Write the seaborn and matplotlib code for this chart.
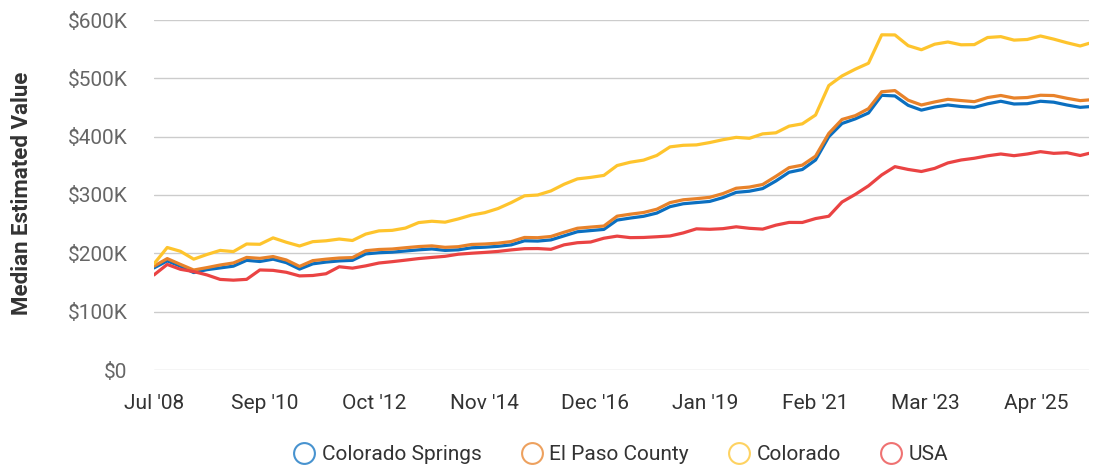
import matplotlib
matplotlib.use("Agg")
import matplotlib.pyplot as plt
from matplotlib.lines import Line2D
import pandas as pd
import seaborn as sns

# ---------------------------------------------------------------------------
# Data (median estimated value, thousands of USD), one point every 3 periods
# ---------------------------------------------------------------------------
X_IDX = list(range(0, 211, 3)) + [212]

TICK_POS = [0, 25, 50, 75, 100, 125, 150, 175, 200]
TICK_LABELS = ["Jul '08", "Sep '10", "Oct '12", "Nov '14", "Dec '16",
               "Jan '19", "Feb '21", "Mar '23", "Apr '25"]

COLORADO_SPRINGS = [
    175, 187, 178, 167, 172, 175, 178, 188, 186, 190, 184, 173,
    182, 185, 187, 188, 199, 201, 202, 204, 206, 207.5, 205, 206,
    209.5, 210.5, 212, 214.5, 221.5, 221, 223, 230, 237, 239, 241, 257,
    260.5, 263.5, 269, 280, 285, 287, 289, 295.5, 304.5, 306.5, 311, 324,
    339, 343.7, 360, 399.9, 422.6, 430.5, 440.6, 470.9, 469.8, 453.7, 445.5, 450.8,
    454.3, 451.7, 450.3, 456.3, 460.7, 456, 456.5, 460.7, 459.1, 454.3, 450.3, 451.4,
]
EL_PASO_COUNTY = [
    178, 191, 181, 171.4, 175.5, 180, 183.5, 193, 191.4, 194.5, 188.6, 177.6,
    187.5, 190, 192, 192.7, 204.5, 206.6, 207.4, 209.6, 211.6, 212.8, 210.3, 211.4,
    215.2, 216, 217.4, 220.2, 227.2, 226.8, 228.9, 236.2, 243, 245, 246.8, 263.7,
    267.1, 270, 275.6, 286.9, 291.8, 293.7, 296, 302.4, 311.6, 313.6, 318, 332,
    346.9, 351.2, 366.6, 405.6, 429.5, 436, 448, 477, 479, 462.5, 454.3, 459.5,
    464, 461.9, 460, 467, 470.6, 466.2, 467.1, 471, 470.5, 465.8, 461.8, 463,
]
COLORADO = [
    182, 210, 203.5, 190, 198, 205, 203, 216, 215.5, 226.5, 219, 212.6,
    220, 221.5, 224.5, 222, 233, 238.5, 239.4, 243.3, 252.7, 255, 253.4, 259,
    265.6, 269.7, 276.8, 287, 298.6, 300, 307, 318.5, 327.6, 330.2, 333.6, 350.5,
    356.2, 359.8, 367.8, 382.5, 385.2, 385.9, 389.9, 394.8, 398.8, 397.2, 404.8, 406.6,
    418, 422, 437.1, 487.6, 504.1, 515.7, 525.9, 574.6, 574.4, 556, 549, 558.5,
    562.3, 557.5, 557.8, 570, 571.5, 565.5, 566.6, 572.6, 567.2, 561, 555.5, 560,
]
USA = [
    163, 181, 172.6, 168.7, 163, 155.3, 154, 155.4, 171.5, 170.8, 167.5, 161.3,
    162, 165, 177, 174.6, 178.5, 183.4, 185.7, 188.3, 191, 193, 194.9, 198.5,
    200.2, 201.6, 203.3, 205.9, 208, 208.2, 206.9, 214.6, 218.2, 219.4, 225.9, 229.5,
    226.9, 227.2, 228.4, 229.8, 235, 242, 241.2, 242.3, 245.5, 242.9, 241.5, 248.3,
    253, 252.9, 259.6, 263.6, 288, 301, 315.7, 334.4, 348.6, 343.8, 340.3, 345.6,
    355, 360, 363, 367.2, 370.3, 367.4, 370.3, 374.3, 371.4, 372.5, 367.7, 371.4,
]

SERIES = ["Colorado Springs", "El Paso County", "Colorado", "USA"]
COLORS = {
    "Colorado Springs": "#0b6fc0",
    "El Paso County": "#e8822a",
    "Colorado": "#fec42d",
    "USA": "#ea4343",
}

sns.set_theme(style="white")
plt.rcParams["font.family"] = ["Roboto", "DejaVu Sans"]


def main():
    df = pd.concat([
        pd.DataFrame({"idx": X_IDX, "value": vals, "area": name})
        for name, vals in zip(SERIES, [COLORADO_SPRINGS, EL_PASO_COUNTY, COLORADO, USA])
    ])

    fig = plt.figure(figsize=(10.97, 4.67), dpi=100)
    ax = fig.add_axes([154 / 1097, 97 / 467, (1089 - 154) / 1097, 350 / 467])

    sns.lineplot(data=df, x="idx", y="value", hue="area", hue_order=SERIES,
                 palette=COLORS, linewidth=2.3, legend=False, ax=ax)

    ax.set_xlim(0, 212)
    ax.set_ylim(0, 600)
    ax.set_yticks([0, 100, 200, 300, 400, 500, 600])
    ax.set_yticklabels(["$0"] + [f"${v}K" for v in range(100, 601, 100)])
    ax.set_xticks(TICK_POS)
    ax.set_xticklabels(TICK_LABELS)
    ax.set_xlabel("")
    ax.set_ylabel("")

    ax.yaxis.grid(True, color="#cccccc", linewidth=1)
    ax.xaxis.grid(False)
    for s in ax.spines.values():
        s.set_visible(False)
    ax.tick_params(axis="y", length=0, pad=19, labelsize=15, labelcolor="#666666")
    ax.tick_params(axis="x", length=0, pad=17, labelsize=15, labelcolor="#333333")

    fig.text(22 / 1097, 1 - 193 / 467, "Median Estimated Value", rotation=90,
             ha="center", va="center", fontsize=16, fontweight="bold", color="#333333")

    handles = [
        Line2D([], [], linestyle="none", marker="o", markersize=15,
               markerfacecolor="none", markeredgecolor=COLORS[name],
               markeredgewidth=1.5, alpha=0.75, label=name)
        for name in SERIES
    ]
    fig.legend(handles=handles, loc="center", ncol=4, frameon=False,
               bbox_to_anchor=(621 / 1097, 1 - 455 / 467), fontsize=15,
               handlelength=1.0, handletextpad=0.35, columnspacing=1.9,
               labelcolor="#333333")

    fig.savefig("out.png", dpi=100)


if __name__ == "__main__":
    main()
